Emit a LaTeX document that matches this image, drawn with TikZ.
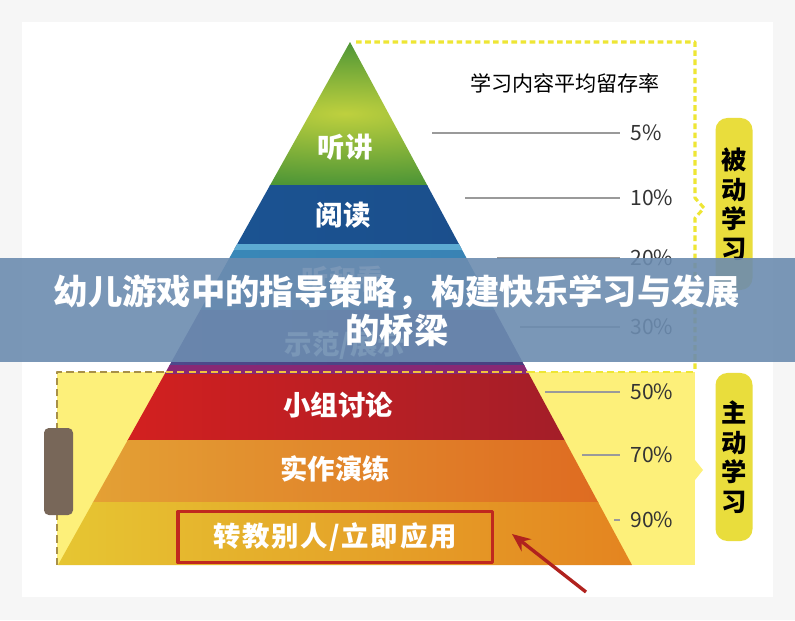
\documentclass[tikz,border=0pt]{standalone}
\usepackage{fontspec}
\usepackage{tikz}
\usetikzlibrary{arrows.meta}
\newfontfamily\cjk{Noto Sans CJK SC}
\newfontfamily\cjkwide[LetterSpace=6]{Noto Sans CJK SC}

\definecolor{pagegray}{HTML}{F6F6F6}
\definecolor{activeyellow}{HTML}{FDF07A}
\definecolor{dasholive}{HTML}{A89048}
\definecolor{dashgold}{HTML}{F2C23C}
\definecolor{dashpale}{HTML}{EEE634}
\definecolor{labelyellow}{HTML}{E9DD3C}
\definecolor{handlebrown}{HTML}{786759}
\definecolor{rategray}{HTML}{9A9A9A}
\definecolor{ratetext}{HTML}{333333}
\definecolor{boxred}{HTML}{C0281E}
\definecolor{arrowred}{HTML}{B0221E}
\definecolor{bannerblue}{HTML}{6C8CB0}
\definecolor{bluestrip}{HTML}{5CAAD2}
\definecolor{magentastrip}{HTML}{882874}

\begin{document}
\begin{tikzpicture}[
            x = 0.025cm, % one pixel of the layout
            y = -0.025cm, % y grows downwards
            > = {Stealth[length=13pt, width=11pt]}, % arrow head style
            line join = round
        ]

        \tikzstyle{layer text}=[
            font = \cjk\bfseries\fontsize{19.5}{19.5}\selectfont,
            text = white
        ]
        \tikzstyle{rate}=[
            anchor = west,
            inner xsep = 0.25cm,
            font = \cjk\fontsize{15}{15}\selectfont,
            text = ratetext
        ]
        \tikzstyle{rate line}=[draw = rategray, line width = 1pt]
        \tikzstyle{side label}=[
            fill = labelyellow,
            rounded corners = 0.3cm,
            minimum width = 0.925cm,
            align = center,
            font = \cjk\bfseries\fontsize{18}{21}\selectfont
        ]
        \tikzstyle{active dash}=[line width = 1.8pt, dash pattern = on 5pt off 3pt]

        \useasboundingbox (0,0) rectangle (795,620);
        \fill[pagegray] (0,0) rectangle (795,620);
        \fill[white] (22,22) rectangle (773,597);

        % active learning area
        \fill[activeyellow] (57,372) rectangle (695,565);
        \fill[activeyellow] (695,460) -- (703,470) -- (695,480) -- cycle;

        % pyramid layers
        \begin{scope}
            \clip (350,42) -- (58,565) -- (632,565) -- cycle;
            \shade[inner color = {rgb,255:red,190;green,208;blue,62}, outer color = {rgb,255:red,78;green,150;blue,54}] (58,42) rectangle (632,185);
            \shade[left color = {rgb,255:red,28;green,86;blue,150}, middle color = {rgb,255:red,44;green,122;blue,184}, right color = {rgb,255:red,26;green,76;blue,136}] (58,185) rectangle (632,248);
            \fill[bluestrip] (58,244) rectangle (632,250);
            \shade[left color = {rgb,255:red,58;green,138;blue,186}, right color = {rgb,255:red,56;green,128;blue,178}] (58,250) rectangle (632,310);
            \shade[left color = {rgb,255:red,80;green,76;blue,142}, right color = {rgb,255:red,70;green,60;blue,126}] (58,310) rectangle (632,365);
            \fill[magentastrip] (58,365) rectangle (632,374);
            \shade[left color = {rgb,255:red,218;green,32;blue,30}, middle color = {rgb,255:red,210;green,30;blue,32}, right color = {rgb,255:red,156;green,30;blue,42}] (58,374) rectangle (632,440);
            \shade[left color = {rgb,255:red,228;green,164;blue,54}, middle color = {rgb,255:red,226;green,150;blue,48}, right color = {rgb,255:red,222;green,104;blue,32}] (58,440) rectangle (632,502);
            \shade[left color = {rgb,255:red,230;green,198;blue,50}, middle color = {rgb,255:red,228;green,168;blue,44}, right color = {rgb,255:red,228;green,132;blue,32}] (58,502) rectangle (632,565);
        \end{scope}

        % dashed borders
        \draw[active dash, dasholive] (57,565) -- (57,372) -- (166,372);
        \draw[active dash, dashgold] (166,372) -- (528,372);
        \draw[active dash, dashpale] (528,372) -- (695,372);
        \draw[line width = 2.2pt, dash pattern = on 4pt off 2.5pt, dashpale] (356,42) -- (695,42) -- (695,198) -- (704,208) -- (695,218) -- (695,372);
        \fill[handlebrown, rounded corners = 0.12cm] (44,428) rectangle (73,515);

        % layer names
        \node[layer text] (listen) at (345,147) {听讲};
        \node[layer text] (read) at (343,215) {阅读};
        \node[layer text] (look) at (343,279) {听和看};
        \node[layer text] (show) at (345,345) {示范/展示};
        \node[layer text] (talk) at (338,405) {小组讨论};
        \node[layer text] (practice) at (335,469) {实作演练};
        \node[draw = boxred, line width = 2.2pt, minimum width = 7.85cm, minimum height = 1.275cm,
              text = white, font = \cjkwide\bfseries\fontsize{19.5}{19.5}\selectfont] (teach) at (335,537) {转教别人/立即应用};

        % retention rates
        \node[font = \cjk\fontsize{15}{15}\selectfont] (head) at (565,83) {学习内容平均留存率};
        \node[rate] (p5) at (620,133) {5\%};
        \node[rate] (p10) at (620,198) {10\%};
        \node[rate] (p20) at (620,258) {20\%};
        \node[rate] (p30) at (620,327) {30\%};
        \node[rate] (p50) at (620,392) {50\%};
        \node[rate] (p70) at (620,455) {70\%};
        \node[rate] (p90) at (620,520) {90\%};
        \coordinate (s5) at (432,133);
        \coordinate (s10) at (465,198);
        \coordinate (s20) at (497,258);
        \coordinate (s30) at (520,327);
        \coordinate (s50) at (545,392);
        \coordinate (s70) at (582,455);
        \coordinate (s90) at (614,520);
        \draw[rate line] (s5) -- (p5.west);
        \draw[rate line] (s10) -- (p10.west);
        \draw[rate line] (s20) -- (p20.west);
        \draw[rate line] (s30) -- (p30.west);
        \draw[rate line] (s50) -- (p50.west);
        \draw[rate line] (s70) -- (p70.west);
        \draw[rate line] (s90) -- (p90.west);

        % side labels
        \node[side label, minimum height = 4.3cm] (passive) at (734,204) {被\\动\\学\\习};
        \node[side label, minimum height = 4.2cm] (active) at (734,457) {主\\动\\学\\习};

        % pointer to the box
        \coordinate (tail) at (586,592);
        \coordinate (tip) at (512,534);
        \draw[->, arrowred, line width = 2.4pt] (tail) -- (tip);

        % title banner
        \fill[bannerblue, opacity = 0.9] (0,258) rectangle (795,362);
        \node[text = white, font = \cjk\bfseries\fontsize{24.4}{24.4}\selectfont] (title1) at (397,292) {幼儿游戏中的指导策略，构建快乐学习与发展};
        \node[text = white, font = \cjk\bfseries\fontsize{24.4}{24.4}\selectfont] (title2) at (397,330) {的桥梁};
    \end{tikzpicture}
\end{document}
